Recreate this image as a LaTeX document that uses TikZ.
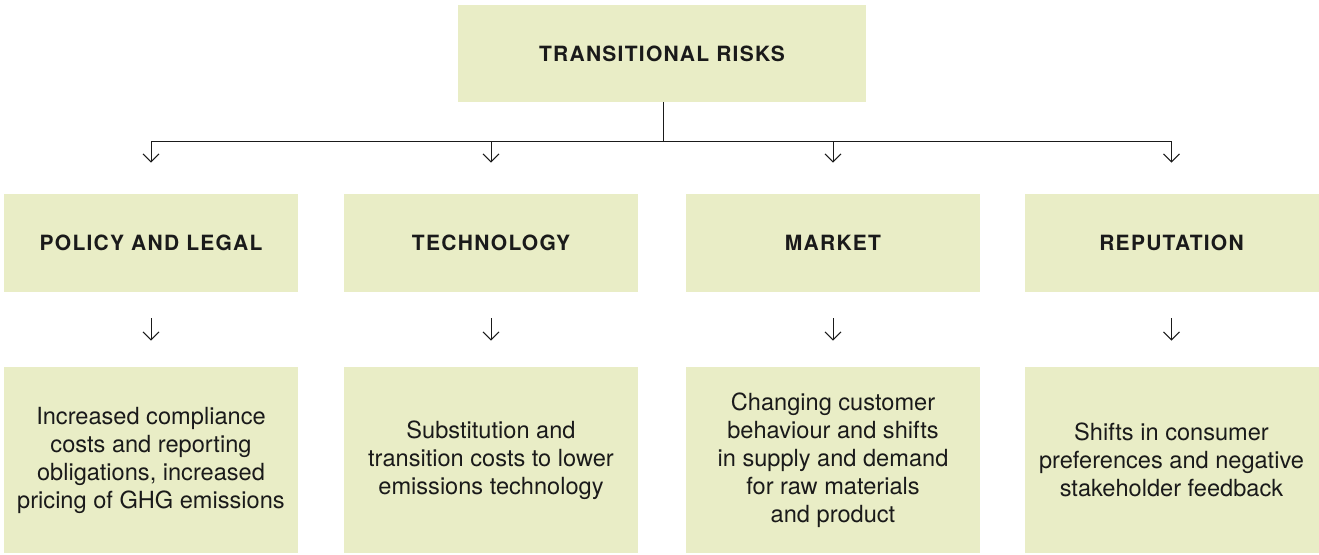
\documentclass[tikz,border=0pt]{standalone}
\usepackage{fontspec}
\setmainfont{TeX Gyre Heros}
\newfontfamily\headfont[LetterSpace=6]{TeX Gyre Heros}
\usepackage{xcolor}
\usetikzlibrary{arrows.meta,positioning}
\definecolor{sage}{HTML}{E9EDC6}
\definecolor{ink}{HTML}{1A1A1A}

\tikzset{
  box/.style={fill=sage,draw=none,minimum width=147pt,inner sep=0pt,align=center,text=ink},
  headbox/.style={box,minimum height=49pt,font=\headfont\fontsize{10.5}{13}\selectfont\bfseries},
  descbox/.style={box,minimum height=93pt,font=\fontsize{11.8}{14}\selectfont},
  link/.style={draw=ink,line width=0.5pt},
  arr/.style={link,-{Straight Barb[length=4pt,width=8pt,line width=0.5pt]}}
}

\begin{document}
\begin{tikzpicture}[x=0.5pt,y=-0.5pt]
\useasboundingbox (0,0) rectangle (1319,554);
\node[headbox,minimum width=204pt,minimum height=48.5pt] (risks) at (662,53.5) {TRANSITIONAL RISKS};
\coordinate (bus) at (663,141);
% categories
\foreach \n/\x/\t in {policy/151/POLICY AND LEGAL,tech/491/TECHNOLOGY,market/833/MARKET,rep/1171.5/REPUTATION}{
  \node[headbox] (\n) at (\x,243) {\t};
}
\node[descbox] (dpolicy) at (151,460) {Increased compliance\\costs and reporting\\obligations, increased\\pricing of GHG emissions};
\node[descbox] (dtech) at (491,460) {Substitution and\\transition costs to lower\\emissions technology};
\node[descbox] (dmarket) at (833,460) {Changing customer\\behaviour and shifts\\in supply and demand\\for raw materials\\and product};
\node[descbox] (drep) at (1171.5,460) {Shifts in consumer\\preferences and negative\\stakeholder feedback};
% connectors
\draw[link] (risks.south -| bus) -- (bus);
\draw[link] (policy.north |- bus) -- (rep.north |- bus);
\foreach \n in {policy,tech,market,rep}{
  \draw[arr,shorten >=15.5pt] (\n.north |- bus) -- (\n.north);
  \draw[arr,shorten <=13pt,shorten >=13pt] (\n.south) -- (d\n.north);
}
\end{tikzpicture}
\end{document}
